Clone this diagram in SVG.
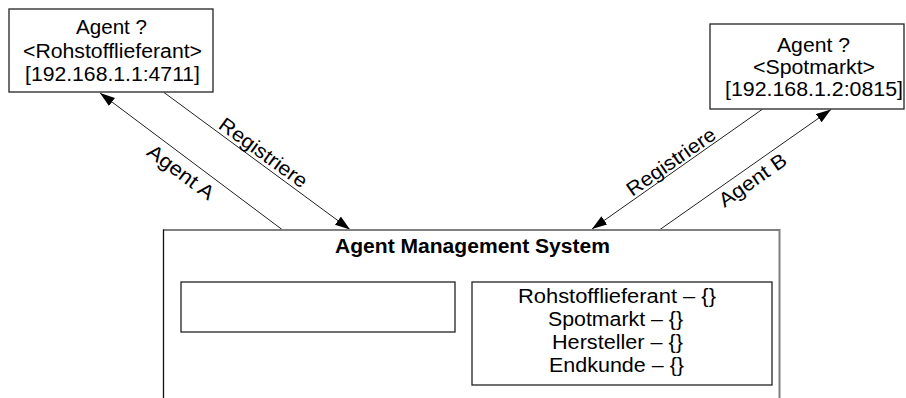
<svg xmlns="http://www.w3.org/2000/svg" width="906" height="398" viewBox="0 0 906 398">
  <style>
    .box { fill: #ffffff; stroke: #222222; stroke-width: 1.3; }
    .t { font-family: "Liberation Sans", Arial, sans-serif; font-size: 19.5px; fill: #000000; text-anchor: middle; }
    .lbl { font-size: 20px; }
    .title { font-weight: bold; }
    .conn { stroke: #222222; stroke-width: 1; fill: none; marker-end: url(#arrow); }
  </style>
  <defs>
    <marker id="arrow" markerUnits="userSpaceOnUse" markerWidth="16" markerHeight="12" refX="15" refY="5" orient="auto">
      <path d="M0,0 L15,5 L0,10 Z" fill="#000000"/>
    </marker>
  </defs>

  <rect width="906" height="398" fill="#ffffff"/>

  <!-- Connectors -->
  <g id="connectors">
    <path class="conn" d="M282,229.5 L100,93"/>
    <path class="conn" d="M164,92.5 L350,229.5"/>
    <path class="conn" d="M762,109.5 L592,229"/>
    <path class="conn" d="M660,229.5 L831,109.5"/>
    <text class="t lbl" transform="translate(181,172) rotate(36.8)" y="7" textLength="78" lengthAdjust="spacingAndGlyphs">Agent A</text>
    <text class="t lbl" transform="translate(263.5,152.5) rotate(36)" y="7" textLength="104" lengthAdjust="spacingAndGlyphs">Registriere</text>
    <text class="t lbl" transform="translate(671,161.5) rotate(-34.8)" y="7" textLength="104" lengthAdjust="spacingAndGlyphs">Registriere</text>
    <text class="t lbl" transform="translate(752.5,180) rotate(-34.8)" y="7" textLength="78" lengthAdjust="spacingAndGlyphs">Agent B</text>
  </g>

  <!-- Agent registering as Rohstofflieferant -->
  <g id="agent-rohstofflieferant">
    <rect class="box" x="9" y="9" width="204" height="83"/>
    <text class="t" x="111.5" y="34" textLength="71" lengthAdjust="spacingAndGlyphs">Agent ?</text>
    <text class="t" x="112.5" y="57.5" textLength="179" lengthAdjust="spacingAndGlyphs">&lt;Rohstofflieferant&gt;</text>
    <text class="t" x="112.5" y="81" textLength="175" lengthAdjust="spacingAndGlyphs">[192.168.1.1:4711]</text>
  </g>

  <!-- Agent registering as Spotmarkt -->
  <g id="agent-spotmarkt">
    <rect class="box" x="710" y="24" width="194" height="85"/>
    <text class="t" x="813.5" y="51.5" textLength="73" lengthAdjust="spacingAndGlyphs">Agent ?</text>
    <text class="t" x="814" y="73.5" textLength="122" lengthAdjust="spacingAndGlyphs">&lt;Spotmarkt&gt;</text>
    <text class="t" x="814" y="96" textLength="178" lengthAdjust="spacingAndGlyphs">[192.168.1.2:0815]</text>
  </g>

  <!-- Agent Management System -->
  <g id="ams">
    <rect x="163" y="230" width="616.5" height="200" fill="#ffffff" stroke="none"/>
    <path d="M163,230 L779.5,230 L779.5,398" fill="none" stroke="#808080" stroke-width="2"/>
    <path d="M163.5,229.5 L163.5,398" fill="none" stroke="#111111" stroke-width="1.3"/>
    <text class="t title" x="472.5" y="253" textLength="275" lengthAdjust="spacingAndGlyphs">Agent Management System</text>
    <g id="ams-left-panel">
      <rect class="box" x="181" y="282" width="274" height="50"/>
    </g>
    <g id="ams-registry">
      <rect class="box" x="472" y="282" width="300" height="103"/>
      <text class="t" x="617" y="302.5" textLength="198" lengthAdjust="spacingAndGlyphs">Rohstofflieferant – {}</text>
      <text class="t" x="615.5" y="325.5" textLength="135" lengthAdjust="spacingAndGlyphs">Spotmarkt – {}</text>
      <text class="t" x="617.5" y="348.5" textLength="131" lengthAdjust="spacingAndGlyphs">Hersteller – {}</text>
      <text class="t" x="616.5" y="371.5" textLength="135" lengthAdjust="spacingAndGlyphs">Endkunde – {}</text>
    </g>
  </g>
</svg>
